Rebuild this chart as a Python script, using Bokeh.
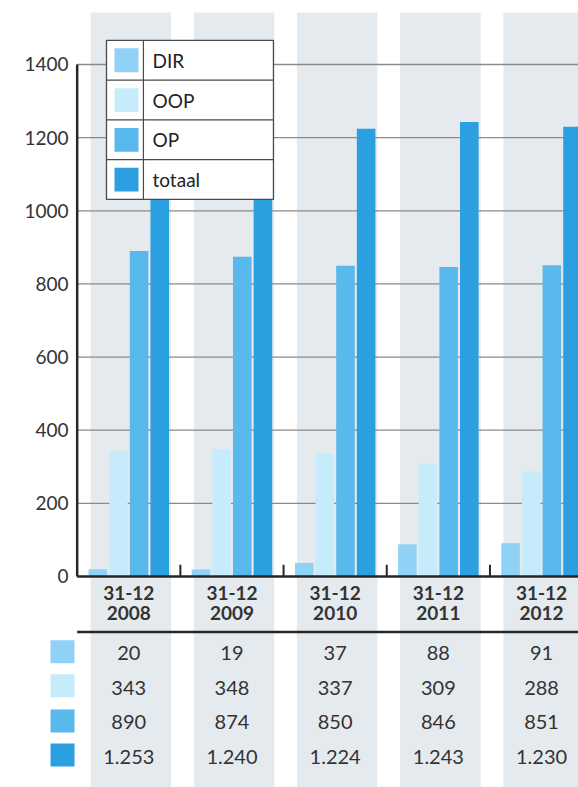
import numpy as np
from bokeh.plotting import figure
from bokeh.models import Range1d, ColumnDataSource
from bokeh.core.properties import value
from bokeh.embed import file_html
from bokeh.resources import INLINE

# ---------------- data ----------------
dates = ["31-12", "31-12", "31-12", "31-12", "31-12"]
years = ["2008", "2009", "2010", "2011", "2012"]
series = ["DIR", "OOP", "OP", "totaal"]
DIR = [20, 19, 37, 88, 91]
OOP = [343, 348, 337, 309, 288]
OP = [890, 874, 850, 846, 851]
totaal = [1253, 1240, 1224, 1243, 1230]
y_ticks = [0, 200, 400, 600, 800, 1000, 1200, 1400]

values = [DIR, OOP, OP, totaal]
colors = ["#8fd2f6", "#c6ecfb", "#5ab9ec", "#2b9fe0"]
band_color = "#e5eaee"
text_color = "#333333"
axis_color = "#262626"
FONT = "Lato"

n = len(years)
centers = np.arange(n) + 0.5

p = figure(width=578, height=787, output_backend="svg", toolbar_location=None,
           x_range=Range1d(-0.743, 4.858), y_range=Range1d(-577, 1575),
           x_axis_location=None, y_axis_location=None, min_border=0,
           outline_line_color=None)
p.grid.visible = False
p.background_fill_color = "white"

# background bands
p.rect(x=centers + 0.02, y=(1542 - 620) / 2, width=0.78, height=1542 + 620,
       fill_color=band_color, line_color=None)

# gridlines
gt = np.array(y_ticks[1:])
p.segment(x0=np.zeros(len(gt)), y0=gt, x1=np.full(len(gt), 6.0), y1=gt,
          line_color="#8a8a8a", line_width=1.3)

# bars
offsets = [-0.3, -0.1, 0.1, 0.3]
for vals, off, col in zip(values, offsets, colors):
    src = ColumnDataSource(dict(x=centers + off, top=vals))
    p.vbar(x="x", top="top", bottom=0, width=0.18, source=src,
           fill_color=col, line_color=None)

# axes
p.segment(x0=[0], y0=[0], x1=[0], y1=[1400], line_color=axis_color, line_width=2.5)
p.segment(x0=[0], y0=[0], x1=[6], y1=[0], line_color=axis_color, line_width=2.5)
bounds = np.arange(1, n)
p.segment(x0=bounds, y0=np.zeros(len(bounds)), x1=bounds, y1=np.full(len(bounds), 32),
          line_color=axis_color, line_width=2)

# y tick labels
p.text(x=np.full(len(y_ticks), -0.084), y=y_ticks, text=[str(t) for t in y_ticks],
       text_align="right", text_baseline="middle", text_font=value(FONT),
       text_font_size="19px", text_color=text_color)

# category labels
p.text(x=centers, y=np.full(n, -46), text=dates, text_align="center",
       text_baseline="middle", text_font=value(FONT), text_font_style="bold",
       text_font_size="19px", text_color=text_color)
p.text(x=centers, y=np.full(n, -100), text=years, text_align="center",
       text_baseline="middle", text_font=value(FONT), text_font_style="bold",
       text_font_size="19px", text_color=text_color)

# line below category labels
p.segment(x0=[0], y0=[-152], x1=[6], y1=[-152], line_color=axis_color, line_width=2.5)

# table
row_y = [-208, -304, -398, -494]
sq_y = [-206, -299, -395, -488]
for vals, ry, sy, col in zip(values, row_y, sq_y, colors):
    labels = [f"{v:,}".replace(",", ".") for v in vals]
    p.text(x=centers, y=np.full(n, ry), text=labels, text_align="center",
           text_baseline="middle", text_font=value(FONT), text_font_size="20px",
           text_color=text_color)
    p.rect(x=[-0.142], y=[sy], width=0.2326, height=63, fill_color=col, line_color=None)

# legend (drawn)
lx0, lx1, ldiv = 0.284, 1.902, 0.642
ly1, ly0 = 1466, 1031
rh = (ly1 - ly0) / len(series)
p.quad(left=[lx0], right=[lx1], top=[ly1], bottom=[ly0], fill_color="white",
       line_color="#4a4a4a", line_width=1.3)
seps = ly1 - rh * np.arange(1, len(series))
p.segment(x0=np.full(len(seps), lx0), y0=seps, x1=np.full(len(seps), lx1), y1=seps,
          line_color="#4a4a4a", line_width=1.2)
p.segment(x0=[ldiv], y0=[ly0], x1=[ldiv], y1=[ly1], line_color="#4a4a4a", line_width=1.2)
row_c = ly1 - rh * (np.arange(len(series)) + 0.5)
p.rect(x=np.full(len(series), 0.478), y=row_c, width=0.2326, height=65,
       fill_color=colors, line_color=None)
p.text(x=np.full(len(series), 0.73), y=row_c, text=series, text_align="left",
       text_baseline="middle", text_font=value(FONT), text_font_size="19px",
       text_color="#222222")

open("out.html", "w").write(file_html(p, INLINE))
